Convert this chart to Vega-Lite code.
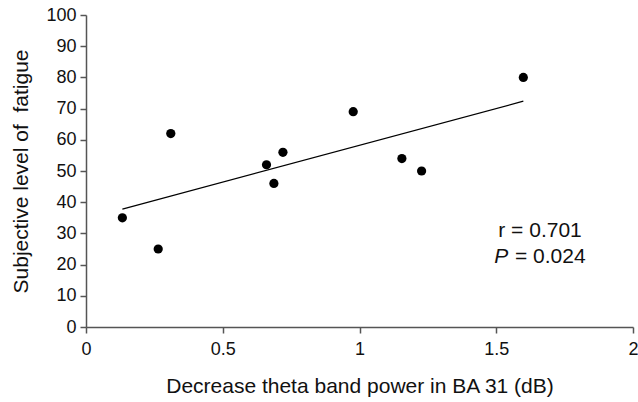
{
  "$schema": "https://vega.github.io/schema/vega-lite/v6.json",
  "width": 547,
  "height": 312,
  "autosize": {"type": "none"},
  "padding": {"left": 86, "top": 15, "right": 5, "bottom": 75},
  "background": "white",
  "config": {
    "view": {"stroke": null},
    "font": "Liberation Sans",
    "axis": {
      "grid": false,
      "domainColor": "#555555",
      "domainWidth": 1.5,
      "tickColor": "#555555",
      "tickWidth": 1.5,
      "tickSize": 6,
      "labelColor": "#111111",
      "titleColor": "#111111",
      "labelFont": "Liberation Sans",
      "titleFont": "Liberation Sans",
      "labelFontSize": 18,
      "titleFontSize": 21,
      "titleFontWeight": "normal",
      "labelOverlap": false
    }
  },
  "datasets": {
    "pts": [
      {"x": 0.133, "y": 35},
      {"x": 0.264, "y": 25},
      {"x": 0.31, "y": 62},
      {"x": 0.66, "y": 52},
      {"x": 0.687, "y": 46},
      {"x": 0.72, "y": 56},
      {"x": 0.977, "y": 69},
      {"x": 1.155, "y": 54},
      {"x": 1.227, "y": 50},
      {"x": 1.599, "y": 80}
    ],
    "notes": [
      {"x": 1.66, "y": 30.8, "label": "r = 0.701", "part": "r"},
      {"x": 1.544, "y": 22.4, "label": "P", "part": "P"},
      {"x": 1.5685, "y": 22.4, "label": "= 0.024", "part": "v"}
    ]
  },
  "encoding": {
    "x": {
      "field": "x", "type": "quantitative",
      "scale": {"domain": [0, 2], "nice": false, "zero": false},
      "axis": {"values": [0, 0.5, 1, 1.5, 2], "format": "~g", "labelPadding": 7, "labelOverlap": false, "labelFlush": false, "title": "Decrease theta band power in BA 31 (dB)", "titlePadding": 17}
    },
    "y": {
      "field": "y", "type": "quantitative",
      "scale": {"domain": [0, 100], "nice": false},
      "axis": {"values": [0, 10, 20, 30, 40, 50, 60, 70, 80, 90, 100], "labelPadding": 4, "labelOverlap": false, "labelFlush": false, "title": "Subjective level of\u00a0 fatigue", "titlePadding": 14}
    }
  },
  "layer": [
    {
      "data": {"name": "pts"},
      "transform": [{"regression": "y", "on": "x"}],
      "mark": {"type": "line", "color": "black", "strokeWidth": 1.2}
    },
    {
      "data": {"name": "pts"},
      "mark": {"type": "point", "filled": true, "color": "black", "size": 85, "opacity": 1}
    },
    {
      "data": {"name": "notes"},
      "transform": [{"filter": "datum.part == 'r'"}],
      "mark": {"type": "text", "align": "center", "baseline": "middle", "fontSize": 21, "color": "#111111"},
      "encoding": {"text": {"field": "label"}}
    },
    {
      "data": {"name": "notes"},
      "transform": [{"filter": "datum.part == 'P'"}],
      "mark": {"type": "text", "align": "right", "baseline": "middle", "fontSize": 21, "fontStyle": "italic", "color": "#111111"},
      "encoding": {"text": {"field": "label"}}
    },
    {
      "data": {"name": "notes"},
      "transform": [{"filter": "datum.part == 'v'"}],
      "mark": {"type": "text", "align": "left", "baseline": "middle", "fontSize": 21, "color": "#111111"},
      "encoding": {"text": {"field": "label"}}
    }
  ]
}
